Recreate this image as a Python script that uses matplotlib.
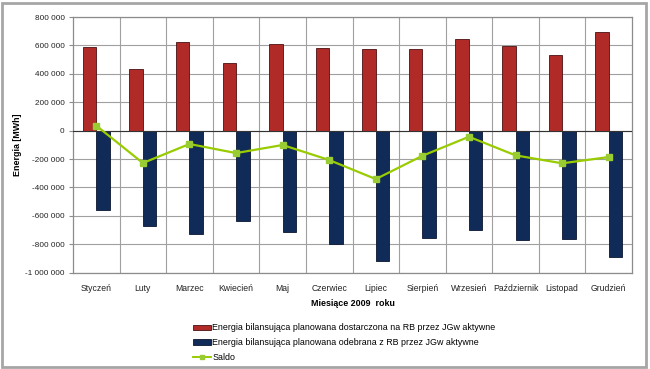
import matplotlib
matplotlib.use("Agg")
import matplotlib.pyplot as plt
import numpy as np
from matplotlib.patches import Rectangle, Patch
from matplotlib.lines import Line2D
from matplotlib.ticker import FuncFormatter

months = ["Styczeń", "Luty", "Marzec", "Kwiecień", "Maj", "Czerwiec", "Lipiec",
          "Sierpień", "Wrzesień", "Październik", "Listopad", "Grudzień"]
dostarczona = [586000, 434000, 622000, 474000, 610000, 580000, 573000,
               573000, 647000, 596000, 532000, 694000]
odebrana = [-561000, -672000, -728000, -637000, -716000, -796000, -916000,
            -756000, -702000, -773000, -763000, -888000]
saldo = [35000, -228000, -94000, -158000, -101000, -207000, -341000,
         -177000, -43000, -174000, -230000, -186000]

label_red = "Energia bilansująca planowana dostarczona na RB przez JGw aktywne"
label_blue = "Energia bilansująca planowana odebrana z RB przez JGw aktywne"
label_saldo = "Saldo"

plt.rcParams['font.family'] = ['Liberation Sans', 'DejaVu Sans']

W, H = 650, 369
fig = plt.figure(figsize=(W / 100, H / 100), dpi=100)
fig.patch.set_facecolor('white')

# outer border
fig.patches.append(Rectangle((1.5 / W, 2.5 / H), 644 / W, 364 / H, transform=fig.transFigure,
                             fill=False, edgecolor='#a6a6a6', linewidth=2.0))

ax = fig.add_axes([73 / W, (H - 272.7) / H, 559 / W, 255.7 / H])

x = np.arange(len(months))
bw = 0.29
red = '#B02A27'
blue = '#102B57'
green = '#99CC00'

ax.bar(x - bw / 2, dostarczona, width=bw, color=red, edgecolor='#4a1010', linewidth=0.6, zorder=3)
ax.bar(x + bw / 2, odebrana, width=bw, color=blue, edgecolor='#0a1530', linewidth=0.6, zorder=3)
ax.plot(x, saldo, color=green, linewidth=1.6, marker='s', markersize=4,
        markerfacecolor='#99CC33', markeredgecolor='#99CC33', zorder=5)

ymin, ymax = -1000000, 800000
ax.set_xlim(-0.5, len(months) - 0.5)
ax.set_ylim(ymin, ymax)
ax.set_yticks(np.arange(ymin, ymax + 1, 200000))
ax.yaxis.set_major_formatter(FuncFormatter(lambda v, p: f"{int(v):,}".replace(",", " ")))
ax.set_xticks(x)
ax.set_xticklabels(months)
ax.tick_params(axis='x', length=0, pad=8, labelsize=6.2, labelcolor='#222222')
ax.tick_params(axis='y', length=3, width=0.8, color='#8c8c8c', direction='out', pad=3,
               labelsize=5.9, labelcolor='#222222')

# grid
ax.set_xticks(np.arange(0.5, len(months) - 0.5, 1), minor=True)
ax.grid(axis='y', which='major', color='#a0a0a0', linewidth=0.8, zorder=0)
ax.grid(axis='x', which='minor', color='#a0a0a0', linewidth=0.8, zorder=0)
ax.tick_params(axis='x', which='minor', length=0)
for s in ax.spines.values():
    s.set_color('#8c8c8c')
    s.set_linewidth(0.9)

# zero axis line with ticks at category boundaries
ax.axhline(0, color='#333333', linewidth=0.8, zorder=4)
sec = ax.secondary_xaxis((0 - ymin) / (ymax - ymin))
sec.set_xticks(np.arange(-0.5, len(months), 1))
sec.set_xticklabels([])
sec.tick_params(direction='out', length=2.5, color='#333333', width=0.7)
sec.spines['bottom'].set_visible(False)
sec.spines['top'].set_visible(False)

ax.set_xlabel("Miesiące 2009  roku", fontsize=6.4, fontweight='bold', labelpad=4.5)
ax.set_ylabel("Energia [MWh]", fontsize=6.4, fontweight='bold', labelpad=2)

handles = [Patch(facecolor=red, edgecolor='#4a1010', linewidth=0.6),
           Patch(facecolor=blue, edgecolor='#0a1530', linewidth=0.6),
           Line2D([0], [0], color=green, linewidth=1.4, marker='s', markersize=3.5,
                  markerfacecolor='#99CC33', markeredgecolor='#99CC33')]
leg = fig.legend(handles, [label_red, label_blue, label_saldo], loc='upper left',
                 bbox_to_anchor=(193 / W, (H - 323.5) / H), frameon=False, fontsize=6.4,
                 handlelength=2.05, handleheight=0.55, handletextpad=0.1, labelspacing=0.62,
                 borderaxespad=0, borderpad=0)

fig.savefig("out.png", dpi=100, facecolor='white')
